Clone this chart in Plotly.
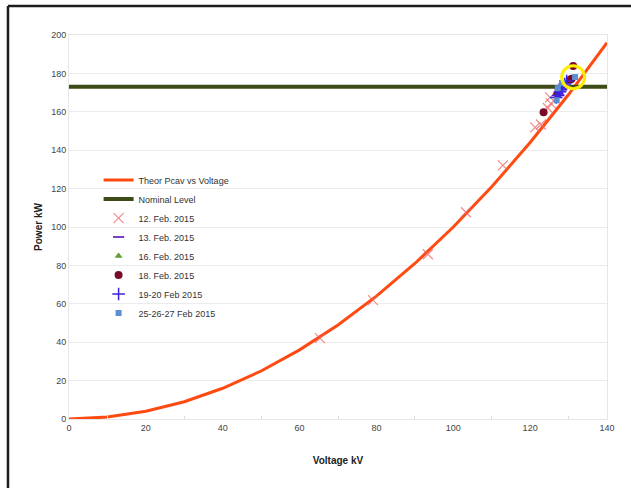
import plotly.graph_objects as go

# Theoretical cavity power vs voltage (kV -> kW)
theor_v = [0, 10, 20, 30, 40, 50, 60, 70, 80, 90, 100, 110, 120, 130, 140]
theor_p = [0, 1, 4, 9, 16, 25, 36, 49, 64, 81, 100, 121, 144, 169, 196]

nominal_v = [0, 140]
nominal_p = [173, 173]

feb12_v = [65.3, 79.1, 93.4, 103.3, 112.9, 121.3, 122.8, 124.6, 125.4, 125.2]
feb12_p = [42.1, 61.9, 85.8, 107.7, 132.1, 151.9, 153.4, 162.0, 164.4, 167.5]

feb13_v = [127.4, 128.2, 128.9, 129.6]
feb13_p = [169.0, 171.5, 173.5, 175.5]

feb16_v = [128.6]
feb16_p = [173.0]

feb18_v = [123.5, 127.1, 130.4, 130.8, 131.2]
feb18_p = [159.8, 169.4, 176.7, 177.2, 183.8]

feb19_v = [126.8, 127.3, 127.8, 128.4, 129.0, 129.5, 128.0]
feb19_p = [167.5, 168.5, 170.5, 172.5, 174.5, 176.0, 171.8]

feb25_v = [126.9, 127.2, 128.3, 131.7]
feb25_p = [166.0, 172.3, 175.0, 178.1]

highlight_v = [131.2]
highlight_p = [178.0]

FONT = "Liberation Sans, Arial, sans-serif"

fig = go.Figure()

fig.add_trace(go.Scatter(x=theor_v, y=theor_p, mode="lines", name="Theor Pcav vs Voltage",
                         line=dict(color="#ff4a12", width=3)))
fig.add_trace(go.Scatter(x=nominal_v, y=nominal_p, mode="lines", name="Nominal Level",
                         line=dict(color="#3d4b16", width=4)))
fig.add_trace(go.Scatter(x=feb12_v, y=feb12_p, mode="markers", name="12. Feb. 2015",
                         marker=dict(symbol="x-thin-open", size=10, color="rgba(235,100,100,0.75)",
                                     line=dict(width=1.2, color="rgba(235,100,100,0.75)"))))
fig.add_trace(go.Scatter(x=feb13_v, y=feb13_p, mode="markers", name="13. Feb. 2015",
                         marker=dict(symbol="line-ew-open", size=8, color="#7b3fc4",
                                     line=dict(width=2, color="#7b3fc4"))))
fig.add_trace(go.Scatter(x=feb16_v, y=feb16_p, mode="markers", name="16. Feb. 2015",
                         marker=dict(symbol="triangle-up", size=7, color="#5e9e34")))
fig.add_trace(go.Scatter(x=feb18_v, y=feb18_p, mode="markers", name="18. Feb. 2015",
                         marker=dict(symbol="circle", size=8, color="#7a0a26")))
fig.add_trace(go.Scatter(x=feb19_v, y=feb19_p, mode="markers", name="19-20 Feb 2015",
                         marker=dict(symbol="cross-thin-open", size=9, color="#3b22dd",
                                     line=dict(width=1.5, color="#3b22dd"))))
fig.add_trace(go.Scatter(x=feb25_v, y=feb25_p, mode="markers", name="25-26-27 Feb 2015",
                         marker=dict(symbol="square", size=6, color="#5b8fd2")))
fig.add_trace(go.Scatter(x=highlight_v, y=highlight_p, mode="markers", showlegend=False,
                         hoverinfo="skip",
                         marker=dict(symbol="circle-open", size=23, color="#ffee00",
                                     line=dict(width=3, color="#ffee00"))))

# outer frame (top and left edges)
frame = dict(color="#1c1c1c", width=2.5)
fig.add_shape(type="line", xref="paper", yref="paper", x0=-0.1134, x1=1.1, y0=1.0755, y1=1.0755, line=frame)
fig.add_shape(type="line", xref="paper", yref="paper", x0=-0.1134, x1=-0.1134, y0=1.0755, y1=-0.3, line=frame)

fig.update_layout(
    width=631, height=488,
    margin=dict(l=69, r=24, t=35, b=69),
    paper_bgcolor="white", plot_bgcolor="white",
    font=dict(family=FONT, size=9, color="#444"),
    legend=dict(x=0.055, y=0.66, xanchor="left", yanchor="top", bgcolor="rgba(0,0,0,0)",
                font=dict(family=FONT, size=9, color="#333"), tracegroupgap=0, itemwidth=30),
    xaxis=dict(range=[0, 140], dtick=20, showgrid=False, zeroline=False,
               showline=True, linecolor="#e6e6e6", linewidth=1, mirror=True,
               ticks="", tickfont=dict(size=9, color="#444"),
               minor=dict(dtick=10, ticks="inside", ticklen=3, tickcolor="#dddddd"),
               title=dict(text="<b>Voltage kV</b>", font=dict(size=10, color="#222"), standoff=25)),
    yaxis=dict(range=[0, 200], dtick=20, showgrid=True, gridcolor="#ececec", zeroline=False,
               showline=True, linecolor="#e6e6e6", linewidth=1, mirror=True,
               ticks="", tickfont=dict(size=9, color="#444"),
               title=dict(text="<b>Power kW</b>", font=dict(size=10, color="#222"), standoff=6)),
    showlegend=True,
)

fig.write_html("out.html")
